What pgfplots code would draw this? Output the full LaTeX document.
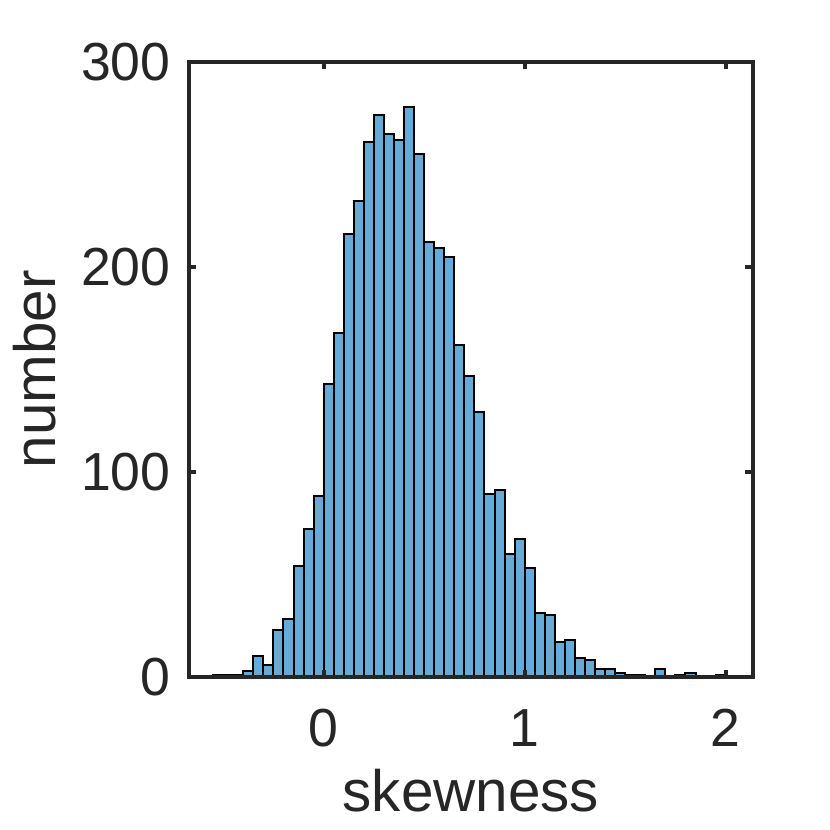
\documentclass[border=0pt]{standalone}
\usepackage{fontspec}
\setmainfont{Liberation Sans}
\usepackage{pgfplots}
\pgfplotsset{compat=1.18}
\definecolor{barblue}{RGB}{102,170,215}
\definecolor{axgray}{RGB}{38,38,38}
\begin{document}
\fontsize{13.4}{16}\selectfont
\begin{tikzpicture}
\begin{axis}[
  scale only axis,
  width=140.85pt, height=153.7pt,
  at={(0,0)}, anchor=south west,
  xmin=-0.669, xmax=2.134, ymin=0, ymax=300,
  xtick={0,1,2}, ytick={0,100,200,300},
  tick align=inside, major tick length=1.8pt,
  axis on top,
  axis line style={axgray, line width=1pt},
  every tick/.style={axgray, line width=1pt},
  /pgf/number format/assume math mode=true,
  tick label style={font=\fontsize{13.4}{16}\selectfont, text=axgray},
  xticklabel style={anchor=base, yshift=-17.5pt},
  yticklabel style={anchor=east},
  label style={font=\fontsize{14.6}{17}\selectfont, text=axgray},
  xlabel={skewness}, ylabel={number},
  xlabel style={at={(axis description cs:0.5,-0.2196)}, anchor=base},
  ylabel style={at={(axis description cs:-0.2366,0.5)}, anchor=base, rotate=0},
]
\addplot[ybar interval, fill=barblue, draw=black, line width=0.5pt] coordinates {
(-0.55,1) (-0.50,1) (-0.45,1) (-0.40,3) (-0.35,10) (-0.30,6) (-0.25,23) (-0.20,28)
(-0.15,54) (-0.10,72) (-0.05,88) (0.00,143) (0.05,168) (0.10,216) (0.15,232)
(0.20,261) (0.25,274) (0.30,265) (0.35,262) (0.40,278) (0.45,255) (0.50,212)
(0.55,209) (0.60,205) (0.65,162) (0.70,147) (0.75,129) (0.80,89) (0.85,91)
(0.90,60) (0.95,67) (1.00,53) (1.05,31) (1.10,30) (1.15,17) (1.20,18) (1.25,9)
(1.30,8) (1.35,4) (1.40,4) (1.45,2) (1.50,1) (1.55,1) (1.60,0) (1.65,4) (1.70,0)
(1.75,1) (1.80,2) (1.85,0) (1.90,0) (1.95,1) (2.00,1)
};
\end{axis}
\pgfresetboundingbox
\useasboundingbox (-47.3pt,-38.3pt) rectangle (160.2pt,169.2pt);
\end{tikzpicture}
\end{document}
